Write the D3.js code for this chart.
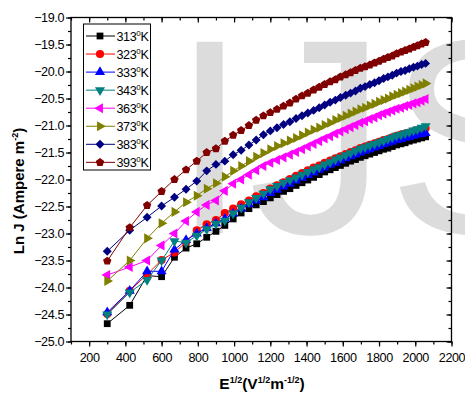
<!DOCTYPE html>
<html>
<head>
<meta charset="utf-8">
<script src="https://cdn.jsdelivr.net/npm/d3@7"></script>
<style>
  body { margin: 0; background: #fff; }
  svg { display: block; font-family: "Liberation Sans", Arial, sans-serif; }
</style>
</head>
<body>
<svg id="chart" width="465" height="394"></svg>
<script>
// E^1/2 values (V^1/2 m^-1/2)
const fieldRoot = [300, 424, 520, 600, 671, 735, 794, 849, 900, 949, 995, 1039, 1082, 1122, 1162, 1200,
  1237, 1273, 1308, 1342, 1375, 1407, 1439, 1470, 1500, 1530, 1559, 1587, 1616, 1643, 1670, 1697,
  1723, 1749, 1775, 1800, 1825, 1849, 1873, 1897, 1921, 1944, 1967, 1990, 2012, 2035, 2057];

const temps = ['313', '323', '333', '343', '363', '373', '383', '393'];

const lnJ313 = [-24.67, -24.33, -23.78, -23.80, -23.44, -23.27, -23.19, -23.07, -22.96, -22.85, -22.73, -22.62, -22.54, -22.47, -22.41, -22.34,
  -22.28, -22.22, -22.17, -22.11, -22.06, -22.01, -21.96, -21.91, -21.86, -21.82, -21.78, -21.74, -21.70, -21.66, -21.63, -21.59,
  -21.56, -21.53, -21.50, -21.47, -21.44, -21.42, -21.39, -21.36, -21.34, -21.32, -21.29, -21.27, -21.25, -21.23, -21.21];
const lnJ323 = [-24.49, -24.06, -23.76, -23.49, -23.35, -23.16, -22.94, -22.83, -22.75, -22.62, -22.54, -22.46, -22.39, -22.31, -22.25, -22.17,
  -22.11, -22.05, -21.99, -21.93, -21.88, -21.83, -21.78, -21.74, -21.69, -21.65, -21.61, -21.57, -21.53, -21.49, -21.46, -21.42,
  -21.39, -21.36, -21.33, -21.30, -21.27, -21.25, -21.22, -21.19, -21.17, -21.15, -21.13, -21.11, -21.09, -21.07, -21.05];
const lnJ333 = [-24.46, -24.06, -23.70, -23.70, -23.30, -23.12, -23.00, -22.90, -22.81, -22.73, -22.63, -22.54, -22.46, -22.39, -22.33, -22.25,
  -22.19, -22.13, -22.08, -22.02, -21.97, -21.92, -21.87, -21.82, -21.78, -21.73, -21.69, -21.65, -21.61, -21.57, -21.54, -21.50,
  -21.47, -21.44, -21.41, -21.38, -21.35, -21.32, -21.30, -21.27, -21.25, -21.23, -21.21, -21.19, -21.17, -21.16, -21.14];
const lnJ343 = [-24.50, -24.09, -23.86, -23.50, -23.14, -23.17, -23.04, -22.92, -22.82, -22.76, -22.63, -22.52, -22.42, -22.34, -22.26, -22.18,
  -22.12, -22.06, -22.01, -21.96, -21.91, -21.86, -21.81, -21.77, -21.72, -21.68, -21.63, -21.59, -21.55, -21.51, -21.47, -21.43,
  -21.40, -21.37, -21.34, -21.31, -21.28, -21.25, -21.22, -21.19, -21.17, -21.14, -21.12, -21.09, -21.07, -21.04, -21.01];
const lnJ363 = [-23.77, -23.62, -23.50, -23.22, -23.00, -22.77, -22.60, -22.47, -22.39, -22.21, -22.08, -22.00, -21.91, -21.83, -21.75, -21.69,
  -21.64, -21.59, -21.54, -21.49, -21.44, -21.39, -21.34, -21.29, -21.24, -21.20, -21.15, -21.11, -21.07, -21.03, -20.99, -20.95,
  -20.92, -20.88, -20.85, -20.81, -20.78, -20.75, -20.72, -20.69, -20.67, -20.64, -20.62, -20.59, -20.57, -20.54, -20.51];
const lnJ373 = [-23.88, -23.50, -23.09, -22.81, -22.60, -22.42, -22.30, -22.17, -22.07, -21.95, -21.84, -21.75, -21.66, -21.58, -21.51, -21.44,
  -21.38, -21.33, -21.28, -21.23, -21.18, -21.13, -21.08, -21.04, -20.99, -20.95, -20.90, -20.86, -20.82, -20.78, -20.74, -20.70,
  -20.67, -20.63, -20.60, -20.56, -20.53, -20.50, -20.46, -20.43, -20.40, -20.37, -20.34, -20.31, -20.28, -20.25, -20.22];
const lnJ383 = [-23.33, -22.94, -22.70, -22.49, -22.33, -22.18, -22.03, -21.84, -21.72, -21.66, -21.54, -21.46, -21.36, -21.27, -21.17, -21.10,
  -21.04, -20.98, -20.93, -20.87, -20.82, -20.77, -20.72, -20.67, -20.62, -20.57, -20.53, -20.48, -20.44, -20.40, -20.36, -20.31,
  -20.28, -20.24, -20.21, -20.17, -20.13, -20.10, -20.07, -20.03, -20.00, -19.98, -19.95, -19.92, -19.90, -19.87, -19.85];
const lnJ393 = [-23.51, -22.89, -22.48, -22.22, -22.00, -21.82, -21.66, -21.50, -21.43, -21.29, -21.18, -21.09, -21.00, -20.90, -20.82, -20.76,
  -20.70, -20.64, -20.58, -20.51, -20.45, -20.40, -20.34, -20.29, -20.24, -20.19, -20.15, -20.10, -20.06, -20.02, -19.98, -19.94,
  -19.91, -19.88, -19.84, -19.81, -19.77, -19.74, -19.71, -19.67, -19.64, -19.61, -19.58, -19.55, -19.52, -19.49, -19.46];

const xTicks = [200, 400, 600, 800, 1000, 1200, 1400, 1600, 1800, 2000, 2200];
const yTicks = [-25.0, -24.5, -24.0, -23.5, -23.0, -22.5, -22.0, -21.5, -21.0, -20.5, -20.0, -19.5, -19.0];

const seriesValues = [lnJ313, lnJ323, lnJ333, lnJ343, lnJ363, lnJ373, lnJ383, lnJ393];
const colors = ['#000000', '#ff0000', '#0000ff', '#008080', '#ff00ff', '#808000', '#000080', '#800000'];
const shapes = ['square', 'circle', 'up', 'down', 'left', 'right', 'diamond', 'pentagon'];

const series = temps.map((t, i) => ({
  temp: t,
  color: colors[i],
  shape: shapes[i],
  points: fieldRoot.map((x, j) => ({ x, y: seriesValues[i][j] }))
}));

// Layout
const svg = d3.select('#chart');
const plotLeft = 71, plotRight = 451.5, plotTop = 17.5, plotBottom = 341.5;

const x = d3.scaleLinear().domain([100, 2200]).range([plotLeft, plotRight]);
const y = d3.scaleLinear().domain([-25, -19]).range([plotBottom, plotTop]);

// Watermark
svg.append('text')
  .attr('x', 171)
  .attr('y', 233)
  .style('font-size', '278px')
  .style('fill', '#dcdcdc')
  .text('IJS');

// Marker path builders
const pentagon = {
  draw(ctx, size) {
    const r = Math.sqrt(size / 2.378);
    for (let k = 0; k < 5; k++) {
      const a = -Math.PI / 2 + k * 2 * Math.PI / 5;
      if (k === 0) ctx.moveTo(r * Math.cos(a), r * Math.sin(a));
      else ctx.lineTo(r * Math.cos(a), r * Math.sin(a));
    }
    ctx.closePath();
  }
};

function markerPath(shape) {
  switch (shape) {
    case 'square': return { d: d3.symbol(d3.symbolSquare, 46)(), rot: 0 };
    case 'circle': return { d: d3.symbol(d3.symbolCircle, 52)(), rot: 0 };
    case 'up': return { d: d3.symbol(d3.symbolTriangle, 44)(), rot: 0 };
    case 'down': return { d: d3.symbol(d3.symbolTriangle, 44)(), rot: 180 };
    case 'left': return { d: d3.symbol(d3.symbolTriangle, 44)(), rot: -90 };
    case 'right': return { d: d3.symbol(d3.symbolTriangle, 44)(), rot: 90 };
    case 'diamond': return { d: d3.symbol(d3.symbolSquare, 40)(), rot: 45 };
    default: return { d: d3.symbol(pentagon, 46)(), rot: 0 };
  }
}

// Series lines and markers
const line = d3.line().x(d => x(d.x)).y(d => y(d.y));

const plot = svg.append('g');
series.forEach(s => {
  const g = plot.append('g');
  g.append('path')
    .datum(s.points)
    .attr('d', line)
    .attr('fill', 'none')
    .attr('stroke', s.color)
    .attr('stroke-width', 1);

  const m = markerPath(s.shape);
  g.selectAll('path.pt')
    .data(s.points)
    .enter()
    .append('path')
    .attr('class', 'pt')
    .attr('d', m.d)
    .attr('transform', d => `translate(${x(d.x)},${y(d.y)}) rotate(${m.rot})`)
    .attr('fill', s.color);
});

// Axes
function styleAxis(g) {
  g.select('.domain').remove();
  g.selectAll('line').attr('stroke', '#000').attr('stroke-width', 1.2);
  g.selectAll('text')
    .style('font-size', '12.6px')
    .style('letter-spacing', '-0.4px')
    .attr('fill', '#000');
}

const xMinor = d3.range(100, 2201, 100);
const yMinor = d3.range(-25, -18.99, 0.25);

svg.append('g')
  .attr('transform', `translate(0,${plotBottom})`)
  .call(d3.axisBottom(x).tickValues(xMinor).tickSize(3).tickFormat(''))
  .call(styleAxis);
svg.append('g')
  .attr('transform', `translate(0,${plotBottom})`)
  .call(d3.axisBottom(x).tickValues(xTicks).tickSize(5).tickPadding(6).tickFormat(d3.format('d')))
  .call(styleAxis)
  .selectAll('text').attr('y', 20.5).attr('dy', 0);

svg.append('g')
  .attr('transform', `translate(0,${plotTop})`)
  .call(d3.axisTop(x).tickValues(xMinor).tickSize(-3).tickFormat(''))
  .call(styleAxis);
svg.append('g')
  .attr('transform', `translate(0,${plotTop})`)
  .call(d3.axisTop(x).tickValues(xTicks).tickSize(-5).tickFormat(''))
  .call(styleAxis);

svg.append('g')
  .attr('transform', `translate(${plotLeft},0)`)
  .call(d3.axisLeft(y).tickValues(yMinor).tickSize(3).tickFormat(''))
  .call(styleAxis);
svg.append('g')
  .attr('transform', `translate(${plotLeft},0)`)
  .call(d3.axisLeft(y).tickValues(yTicks).tickSize(5).tickPadding(2).tickFormat(d3.format('.1f')))
  .call(styleAxis);

svg.append('g')
  .attr('transform', `translate(${plotRight},0)`)
  .call(d3.axisRight(y).tickValues(yMinor).tickSize(-3).tickFormat(''))
  .call(styleAxis);
svg.append('g')
  .attr('transform', `translate(${plotRight},0)`)
  .call(d3.axisRight(y).tickValues(yTicks).tickSize(-5).tickFormat(''))
  .call(styleAxis);

// Frame
svg.append('rect')
  .attr('x', plotLeft)
  .attr('y', plotTop)
  .attr('width', plotRight - plotLeft)
  .attr('height', plotBottom - plotTop)
  .attr('fill', 'none')
  .attr('stroke', '#000')
  .attr('stroke-width', 1.3);

// Legend
const legend = svg.append('g');
legend.append('rect')
  .attr('x', 83.5)
  .attr('y', 24)
  .attr('width', 67)
  .attr('height', 146)
  .attr('fill', '#fff')
  .attr('stroke', '#000')
  .attr('stroke-width', 1);

series.forEach((s, i) => {
  const cy = 36 + i * 18.05;
  legend.append('line')
    .attr('x1', 86).attr('x2', 115)
    .attr('y1', cy).attr('y2', cy)
    .attr('stroke', s.color)
    .attr('stroke-width', 1);
  const m = markerPath(s.shape);
  legend.append('path')
    .attr('d', m.d)
    .attr('transform', `translate(100,${cy}) rotate(${m.rot})`)
    .attr('fill', s.color);
  const t = legend.append('text')
    .attr('x', 116.5)
    .attr('y', cy + 4.5)
    .style('font-size', '12.6px')
    .style('letter-spacing', '-0.4px');
  t.append('tspan').text(s.temp);
  t.append('tspan').attr('dy', -5).style('font-size', '8px').text('0');
  t.append('tspan').attr('dy', 5).text('K');
});

// Axis titles
const yTitle = svg.append('text')
  .attr('transform', 'translate(24,191) rotate(-90)')
  .attr('text-anchor', 'middle')
  .style('font-size', '15px')
  .style('font-weight', 'bold');
yTitle.append('tspan').text('Ln J (Ampere m');
yTitle.append('tspan').attr('dy', -6).style('font-size', '9px').text('-2');
yTitle.append('tspan').attr('dy', 6).text(')');

const xTitle = svg.append('text')
  .attr('x', 262)
  .attr('y', 389)
  .attr('text-anchor', 'middle')
  .style('font-size', '15.5px')
  .style('font-weight', 'bold');
xTitle.append('tspan').text('E');
xTitle.append('tspan').attr('dy', -6).style('font-size', '9px').text('1/2');
xTitle.append('tspan').attr('dy', 6).text('(V');
xTitle.append('tspan').attr('dy', -6).style('font-size', '9px').text('1/2');
xTitle.append('tspan').attr('dy', 6).text('m');
xTitle.append('tspan').attr('dy', -6).style('font-size', '9px').text('-1/2');
xTitle.append('tspan').attr('dy', 6).text(')');
</script>
</body>
</html>
